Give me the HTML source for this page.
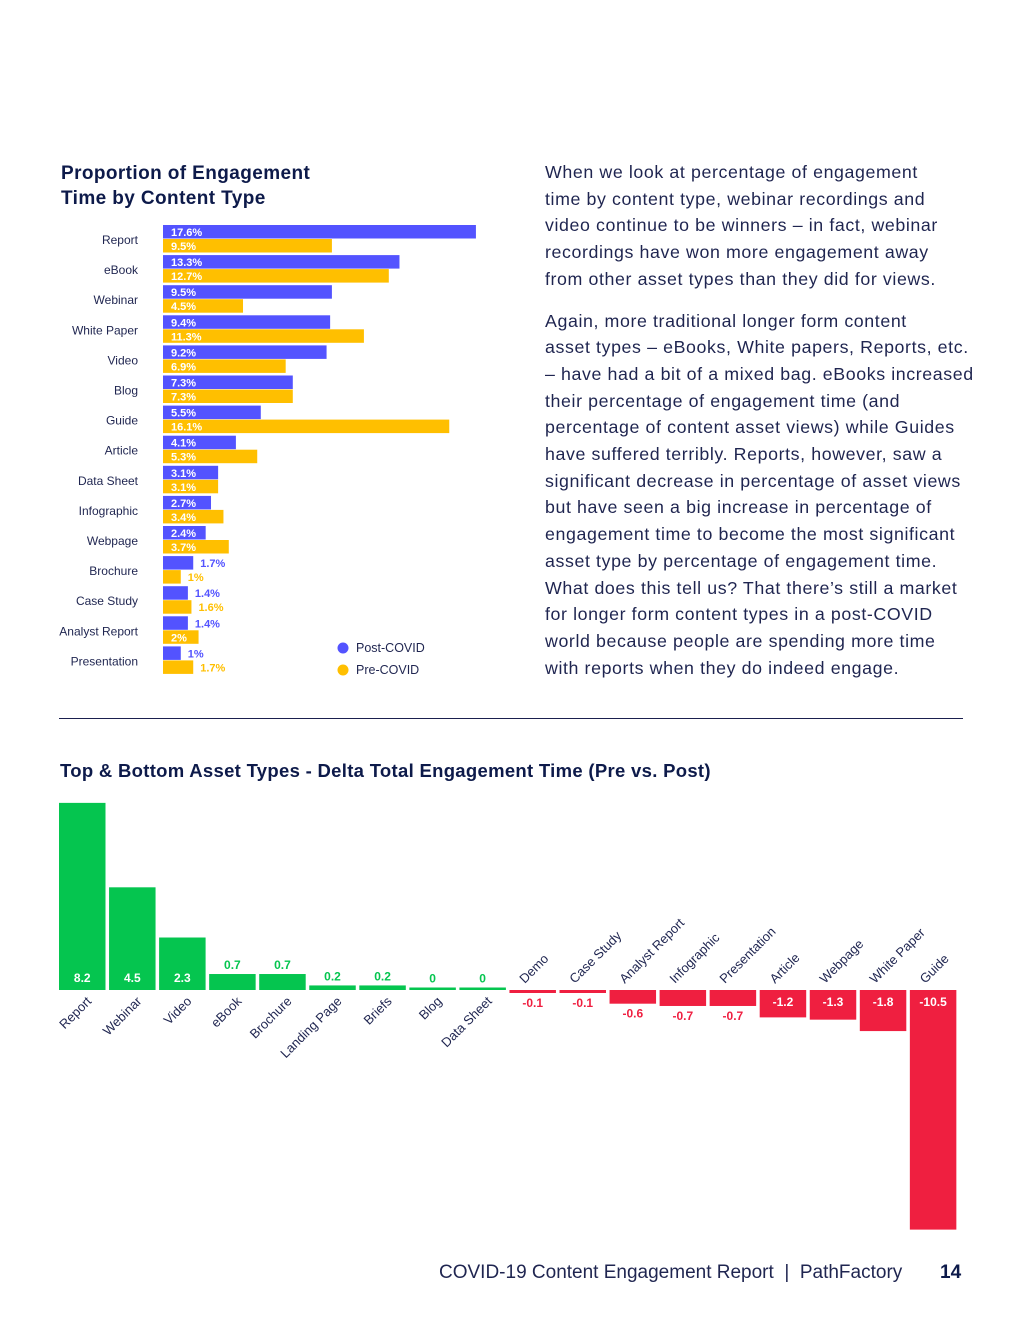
<!DOCTYPE html>
<html><head><meta charset="utf-8"><style>
body{margin:0;background:#fff;font-family:"Liberation Sans",sans-serif;color:#1a1f4e}
#page{position:relative;width:1020px;height:1320px;overflow:hidden}
.h{position:absolute;font-weight:bold;color:#0d1a4a}
#para{position:absolute;left:545px;top:159px;width:470px;font-size:17.8px;line-height:26.7px;color:#1f2550;white-space:nowrap;letter-spacing:0.6px}
#para p{margin:0 0 15px 0}
</style></head><body><div id="page">
<div class="h" style="left:61px;top:161px;font-size:19px;line-height:25px;letter-spacing:0.4px">Proportion of Engagement<br>Time by Content Type</div>
<svg id="c1" width="520" height="480" style="position:absolute;left:0;top:215px"></svg>
<div id="para"><p>When we look at percentage of engagement<br>time by content type, webinar recordings and<br>video continue to be winners – in fact, webinar<br>recordings have won more engagement away<br>from other asset types than they did for views.</p><p>Again, more traditional longer form content<br>asset types – eBooks, White papers, Reports, etc.<br>– have had a bit of a mixed bag. eBooks increased<br>their percentage of engagement time (and<br>percentage of content asset views) while Guides<br>have suffered terribly. Reports, however, saw a<br>significant decrease in percentage of asset views<br>but have seen a big increase in percentage of<br>engagement time to become the most significant<br>asset type by percentage of engagement time.<br>What does this tell us? That there’s still a market<br>for longer form content types in a post-COVID<br>world because people are spending more time<br>with reports when they do indeed engage.</p></div>
<div style="position:absolute;left:59px;top:718px;width:904px;height:1px;background:#1a1f4e"></div>
<div class="h" style="left:60px;top:760px;font-size:18.5px;letter-spacing:0.3px">Top &amp; Bottom Asset Types - Delta Total Engagement Time (Pre vs. Post)</div>
<svg id="c2" width="1020" height="480" style="position:absolute;left:0;top:780px"></svg>
<div style="position:absolute;left:439px;top:1262px;font-size:19px;color:#1f2550">COVID-19 Content Engagement Report &nbsp;|&nbsp; PathFactory</div>
<div style="position:absolute;left:940px;top:1262px;font-size:19px;font-weight:bold;color:#0d1a4a">14</div>
</div>
<script>
const cats1=["Report","eBook","Webinar","White Paper","Video","Blog","Guide","Article","Data Sheet","Infographic","Webpage","Brochure","Case Study","Analyst Report","Presentation"];
const post=[17.6,13.3,9.5,9.4,9.2,7.3,5.5,4.1,3.1,2.7,2.4,1.7,1.4,1.4,1];
const pre=[9.5,12.7,4.5,11.3,6.9,7.3,16.1,5.3,3.1,3.4,3.7,1,1.6,2,1.7];
const cats2=["Report","Webinar","Video","eBook","Brochure","Landing Page","Briefs","Blog","Data Sheet","Demo","Case Study","Analyst Report","Infographic","Presentation","Article","Webpage","White Paper","Guide"];
const deltas=[8.2,4.5,2.3,0.7,0.7,0.2,0.2,0,0,-0.1,-0.1,-0.6,-0.7,-0.7,-1.2,-1.3,-1.8,-10.5];
const NS="http://www.w3.org/2000/svg";
function mk(svg,tag,a,txt){const e=document.createElementNS(NS,tag);for(const k in a)e.setAttribute(k,a[k]);if(txt!==undefined)e.textContent=txt;svg.appendChild(e);return e;}
const BLUE="#5353ff",YEL="#ffbf00",GRN="#05c54f",RED="#ef1f40";
const s1=document.getElementById('c1');
const x1=v=>v*17.78;const row=i=>10+i*30.1;
cats1.forEach((c,i)=>{
 const y=row(i);
 const l=mk(s1,'text',{x:138,y:y+19,'text-anchor':'end','font-size':12,fill:'#1f2550'},c);
 
 
 [[post[i],BLUE,0],[pre[i],YEL,14]].forEach(([v,col,dy])=>{
  const r=mk(s1,'rect',{x:163,y:y+dy,width:x1(v),height:13.5,fill:col});
  
  
  const inside=v>=2;
  const t=mk(s1,'text',{x:inside?171:163+x1(v)+7,y:y+dy+11,'font-size':11,'font-weight':'bold',fill:inside?'#fff':col},v+'%');
  
  
 });
});
[[BLUE,"Post-COVID",648],[YEL,"Pre-COVID",670]].forEach(([col,lab,yy])=>{
 const c=mk(s1,'circle',{cx:343,cy:yy-215,r:5.5,fill:col});
 
 
 const t=mk(s1,'text',{x:356,y:yy-211,'font-size':12.5,fill:'#1f2550'},lab);
 
 
});
const s2=document.getElementById('c2');
const base=210, sc=22.82, pitch=50.05, x0=59, bw=46.5;
deltas.forEach((v,i)=>{
 const x=x0+i*pitch, cx=x+bw/2;
 let top,h;
 if(v>=0){h=Math.max(v*sc,2.5);top=base-h;}else{h=Math.max(-v*sc,3);top=base;}
 const r=mk(s2,'rect',{x:x,y:top,width:bw,height:h,fill:v>=0?GRN:RED});
 
 
 let ty,fill;
 if(v>=0){ if(v*sc>25){ty=base-8;fill='#fff';} else {ty=top-5;fill=GRN;} }
 else { if(-v*sc>25){ty=base+16;fill='#fff';} else {ty=top+h+14;fill=RED;} }
 const t=mk(s2,'text',{x:cx,y:ty,'text-anchor':'middle','font-size':12,'font-weight':'bold',fill:fill},String(v));
 
 
 let lab;
 if(v>=0){lab=mk(s2,'text',{x:cx+10,y:base+12,'text-anchor':'end','font-size':13,fill:'#1f2550',transform:`rotate(-45 ${cx+10} ${base+12})`},cats2[i]);}
 else{lab=mk(s2,'text',{x:cx-8,y:base-6,'text-anchor':'start','font-size':13,fill:'#1f2550',transform:`rotate(-45 ${cx-8} ${base-6})`},cats2[i]);}
 
 
});
</script></body></html>
